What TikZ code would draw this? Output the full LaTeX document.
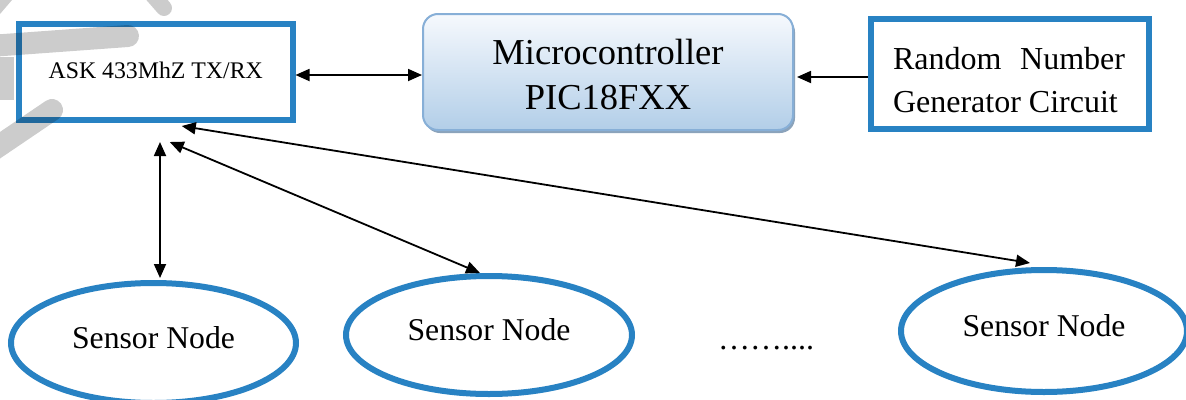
\documentclass[tikz,border=0pt]{standalone}
\usepackage{fontspec}
\setmainfont{Liberation Serif}
\usetikzlibrary{arrows.meta,shapes.geometric,shadows,calc}
\definecolor{bbor}{RGB}{40,130,195}
\definecolor{mctop}{RGB}{246,249,253}
\definecolor{mcbot}{RGB}{178,206,232}
\definecolor{mcbor}{RGB}{135,175,215}
\definecolor{mcsh}{RGB}{110,140,170}
\begin{document}
\begin{tikzpicture}[x=1pt,y=-1pt,
  bluebox/.style={draw=bbor, line width=6pt, rectangle, inner sep=0pt},
  sensor/.style={draw=bbor, line width=6pt, ellipse, inner sep=0pt, text height=22pt, text depth=12pt, font=\fontsize{31.7}{38}\selectfont},
  tip/.style={Triangle[length=14pt,width=12pt]},
  arr/.style={line width=1.8pt, {Triangle[length=14pt,width=12pt]}-{Triangle[length=14pt,width=12pt]}},
  arrone/.style={line width=1.8pt, -{Triangle[length=14pt,width=12pt]}},
  wmark/.style={black, opacity=0.2}
]
\useasboundingbox (0,0) rectangle (1186,399);
\fill[white] (0,0) rectangle (1186,399);

% boxes
\node[bluebox, minimum width=273.5pt, minimum height=96pt, text height=18pt, text depth=6pt, font=\fontsize{23.8}{28}\selectfont] (ask) at (155.75,72) {ASK 433MhZ TX/RX};

\node[rectangle, rounded corners=15pt, draw=mcbor, line width=2pt, top color=mctop, bottom color=mcbot, minimum width=370pt, minimum height=116pt, drop shadow={shadow xshift=2pt, shadow yshift=-3pt, fill=mcsh, opacity=0.8}] (mc) at (608,72) {};
\node[align=center, font=\fontsize{36.5}{45}\selectfont] (mct) at (608,75) {Microcontroller\\PIC18FXX};

\node[bluebox, minimum width=278pt, minimum height=110.5pt] (rng) at (1009.5,73.75) {};
\node[align=left, font=\fontsize{32}{43}\selectfont] (rngt) at (1009,80.5) {\makebox[232pt][s]{Random Number}\\Generator Circuit};

% sensors
\node[sensor, minimum width=285pt, minimum height=120pt] (s1) at (153.5,343) {Sensor Node};
\node[sensor, minimum width=286pt, minimum height=118pt] (s2) at (489,335) {Sensor Node};
\node[sensor, minimum width=286pt, minimum height=122pt] (s3) at (1044,331) {Sensor Node};
\node[font=\fontsize{32}{38}\selectfont, anchor=base] (dots) at (766,349) {……....};

% connectors
\draw[arr] (ask.east |- 0,75) -- (mc.west |- 0,75);
\draw[arrone, shorten >=3pt] (rng.west |- 0,77) -- (mc.east |- 0,77);
\draw[arr, shorten <=19pt, shorten >=2pt] (ask.south -| 160,0) -- (s1.north -| 160,0);
\draw[arr] ($(ask.south)+(14,19)$) -- ($(s2.north)+(-9,0)$);
\draw[arr] ($(ask.south)+(26,3)$) -- ($(s3.north)+(-14,-4)$);

% watermark fragments
\draw[wmark, line width=22pt, line cap=round] (-10,46) -- (128,36);
\fill[wmark] (0,57) rectangle (14,100);
\draw[wmark, line width=22pt, line cap=round] (52,110) -- (-10,152);
\draw[wmark, line width=16pt, line cap=round] (150,-8) -- (164,8);
\fill[wmark] (0,0) -- (12,0) -- (0,14) -- cycle;
\end{tikzpicture}
\end{document}
